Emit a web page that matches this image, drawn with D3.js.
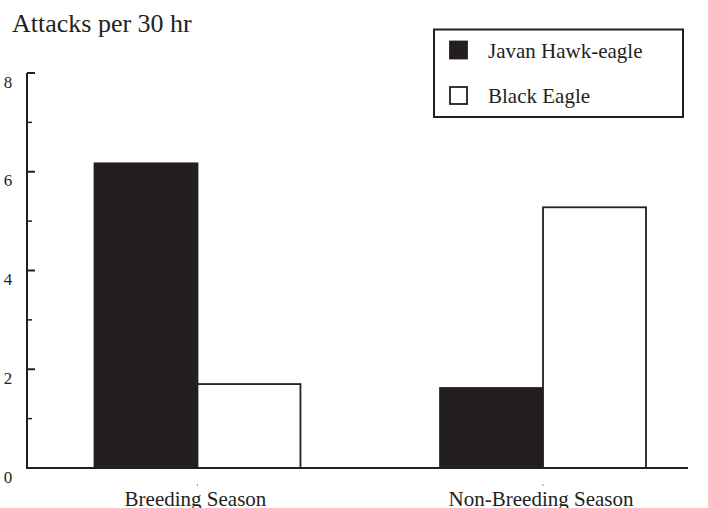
<!DOCTYPE html>
<html>
<head>
<meta charset="utf-8">
<script src="https://cdn.jsdelivr.net/npm/d3@7"></script>
<style>
  html, body { margin: 0; padding: 0; background: #fff; }
  svg { display: block; }
  text { font-family: "Liberation Serif", "Times New Roman", serif; fill: #231f20; }
</style>
</head>
<body>
<svg id="chart" width="708" height="508"></svg>
<script>
const categories = ["Breeding Season", "Non-Breeding Season"];
const seriesNames = ["Javan Hawk-eagle", "Black Eagle"];
const javanValues = [6.17, 1.62];
const blackValues = [1.70, 5.28];
const yTicks = [0, 2, 4, 6, 8];
const yMinorTicks = [1, 3, 5, 7];
const yTitle = "Attacks per 30 hr";

const seriesValues = [javanValues, blackValues];
const seriesFill = ["#231f20", "#ffffff"];

const svg = d3.select("#chart");
const ink = "#231f20";

const y = d3.scaleLinear().domain([0, 8]).range([468, 73]);
const x = d3.scaleBand().domain(categories).range([94.5, 646]).paddingInner(0.404).paddingOuter(0);
const xs = d3.scaleBand().domain(seriesNames).range([0, x.bandwidth()]);

// bars
const groups = svg.append("g").selectAll("g").data(categories).join("g")
  .attr("transform", d => `translate(${x(d)},0)`);
groups.selectAll("rect")
  .data((c, ci) => seriesNames.map((s, si) => ({ s, si, v: seriesValues[si][ci] })))
  .join("rect")
  .attr("x", d => xs(d.s))
  .attr("width", xs.bandwidth())
  .attr("y", d => y(d.v))
  .attr("height", d => y(0) - y(d.v))
  .attr("fill", d => seriesFill[d.si])
  .attr("stroke", ink)
  .attr("stroke-width", 1.8);

// y axis
const yAxis = svg.append("g");
yAxis.append("line").attr("x1", 27).attr("x2", 27).attr("y1", y(8)).attr("y2", y(0))
  .attr("stroke", ink).attr("stroke-width", 2);
yAxis.selectAll(".maj").data(yTicks).join("line").attr("class", "maj")
  .attr("x1", 27).attr("x2", 35).attr("y1", d => y(d)).attr("y2", d => y(d))
  .attr("stroke", ink).attr("stroke-width", 2);
yAxis.selectAll(".min").data(yMinorTicks).join("line").attr("class", "min")
  .attr("x1", 27).attr("x2", 32).attr("y1", d => y(d)).attr("y2", d => y(d))
  .attr("stroke", ink).attr("stroke-width", 1.5);
yAxis.selectAll("text").data(yTicks).join("text")
  .attr("x", 8).attr("y", d => y(d) + 14.5)
  .attr("text-anchor", "middle").attr("font-size", 17)
  .text(d => d);

// x axis
svg.append("line").attr("x1", 26).attr("x2", 688).attr("y1", y(0)).attr("y2", y(0))
  .attr("stroke", ink).attr("stroke-width", 2);
svg.append("g").selectAll("line").data(categories).join("line")
  .attr("x1", d => x(d) + x.bandwidth() / 2).attr("x2", d => x(d) + x.bandwidth() / 2)
  .attr("y1", 484).attr("y2", 486)
  .attr("stroke", "#999").attr("stroke-width", 1);
svg.append("g").selectAll("text").data(categories).join("text")
  .attr("x", d => x(d) + x.bandwidth() / 2 - 2)
  .attr("y", 506)
  .attr("text-anchor", "middle").attr("font-size", 21)
  .text(d => d);

// title
svg.append("text").attr("x", 12).attr("y", 32).attr("font-size", 26).text(yTitle);

// legend
const lg = svg.append("g");
lg.append("rect").attr("x", 434).attr("y", 29.5).attr("width", 249).attr("height", 87.5)
  .attr("fill", "#fff").attr("stroke", ink).attr("stroke-width", 2);
const items = lg.selectAll("g").data(seriesNames).join("g")
  .attr("transform", (d, i) => `translate(0,${i * 45.5})`);
items.append("rect").attr("x", 450).attr("y", 41.5).attr("width", 17).attr("height", 17)
  .attr("fill", (d, i) => seriesFill[i]).attr("stroke", ink).attr("stroke-width", 1.8);
items.append("text").attr("x", 488).attr("y", 57.5).attr("font-size", 21).text(d => d);
</script>
</body>
</html>
